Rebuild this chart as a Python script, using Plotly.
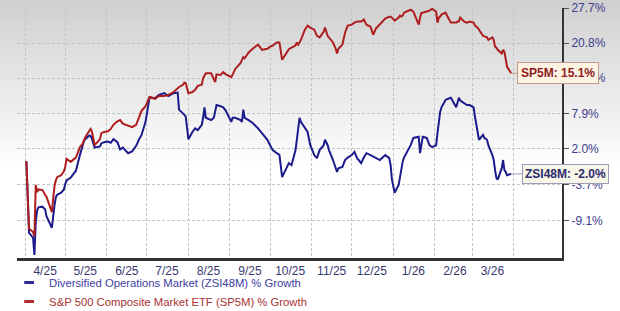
import math
import plotly.graph_objects as go

# ---------------- data ----------------
dates = [
    "2025-04-02", "2025-04-03", "2025-04-04", "2025-04-07", "2025-04-08", "2025-04-09", "2025-04-10",
    "2025-04-11", "2025-04-14", "2025-04-16", "2025-04-17", "2025-04-21", "2025-04-22", "2025-04-23",
    "2025-04-24", "2025-04-25", "2025-04-28", "2025-04-30", "2025-05-01", "2025-05-02", "2025-05-05",
    "2025-05-07", "2025-05-09", "2025-05-12", "2025-05-13", "2025-05-14", "2025-05-15", "2025-05-16",
    "2025-05-19", "2025-05-20", "2025-05-21", "2025-05-22", "2025-05-23", "2025-05-27", "2025-05-28",
    "2025-05-30", "2025-06-02", "2025-06-04", "2025-06-06", "2025-06-09", "2025-06-11", "2025-06-13",
    "2025-06-17", "2025-06-20", "2025-06-23", "2025-06-25", "2025-06-27", "2025-06-30", "2025-07-02",
    "2025-07-03", "2025-07-07", "2025-07-10", "2025-07-14", "2025-07-17", "2025-07-21", "2025-07-24",
    "2025-07-25", "2025-07-28", "2025-07-29", "2025-07-30", "2025-07-31", "2025-08-01", "2025-08-04",
    "2025-08-06", "2025-08-08", "2025-08-11", "2025-08-12", "2025-08-13", "2025-08-14", "2025-08-18",
    "2025-08-20", "2025-08-21", "2025-08-22", "2025-08-25", "2025-08-27", "2025-08-29", "2025-09-02",
    "2025-09-03", "2025-09-05", "2025-09-09", "2025-09-10", "2025-09-11", "2025-09-12", "2025-09-15",
    "2025-09-18", "2025-09-22", "2025-09-25", "2025-09-29", "2025-10-01", "2025-10-03", "2025-10-06",
    "2025-10-08", "2025-10-10", "2025-10-13", "2025-10-15", "2025-10-17", "2025-10-20", "2025-10-21",
    "2025-10-22", "2025-10-23", "2025-10-24", "2025-10-27", "2025-10-29", "2025-10-31", "2025-11-03",
    "2025-11-05", "2025-11-07", "2025-11-10", "2025-11-11", "2025-11-13", "2025-11-14", "2025-11-17",
    "2025-11-19", "2025-11-20", "2025-11-21", "2025-11-24", "2025-11-26", "2025-11-28", "2025-12-01",
    "2025-12-03", "2025-12-05", "2025-12-08", "2025-12-10", "2025-12-12", "2025-12-15", "2025-12-17",
    "2025-12-19", "2025-12-22", "2025-12-24", "2025-12-26", "2025-12-29", "2025-12-30", "2025-12-31",
    "2026-01-02", "2026-01-05", "2026-01-06", "2026-01-07", "2026-01-08", "2026-01-09", "2026-01-12",
    "2026-01-13", "2026-01-14", "2026-01-16", "2026-01-20", "2026-01-21", "2026-01-22", "2026-01-23",
    "2026-01-26", "2026-01-28", "2026-01-30", "2026-02-02", "2026-02-03", "2026-02-04", "2026-02-05",
    "2026-02-06", "2026-02-09", "2026-02-11", "2026-02-13", "2026-02-17", "2026-02-18", "2026-02-19",
    "2026-02-20", "2026-02-23", "2026-02-25", "2026-02-27", "2026-03-02", "2026-03-03", "2026-03-04",
    "2026-03-05", "2026-03-06", "2026-03-09", "2026-03-10", "2026-03-12", "2026-03-13", "2026-03-16",
    "2026-03-17", "2026-03-18", "2026-03-19", "2026-03-20", "2026-03-23", "2026-03-24", "2026-03-25",
    "2026-03-26", "2026-03-27", "2026-03-30",
]

sp5m = [
    0.0, -4.8, -10.2, -10.7, -11.3, -3.7, -4.8,
    -4.4, -4.5, -5.2, -5.5, -7.8, -5.7, -3.9,
    -3.0, -2.5, -2.2, -1.6, -0.9, 0.4, -0.1,
    0.3, 0.6, 2.3, 2.5, 2.8, 3.4, 3.9,
    5.0, 5.3, 4.8, 3.5, 2.6, 3.6, 4.6,
    4.8, 4.9, 5.3, 6.0, 6.6, 6.8, 6.2,
    5.8, 5.6, 6.0, 7.2, 8.4, 9.2, 10.2,
    10.8, 10.5, 11.0, 11.0, 11.2, 11.7, 12.4,
    12.6, 13.0, 13.4, 13.3, 12.6, 11.5, 11.7,
    12.1, 12.8, 13.0, 14.2, 14.8, 15.1, 15.1,
    13.9, 13.5, 14.9, 14.8, 15.3, 14.9, 14.4,
    14.8, 15.9, 17.0, 17.6, 18.1, 17.9, 19.0,
    19.7, 20.5, 19.5, 19.7, 20.1, 20.3, 20.9,
    20.9, 17.6, 18.7, 19.6, 19.9, 20.3, 20.9,
    20.5, 20.9, 21.4, 23.4, 24.2, 23.8, 23.4,
    22.2, 21.9, 23.0, 23.8, 22.2, 21.9, 20.9,
    19.7, 18.8, 19.7, 20.5, 22.8, 24.2, 24.4,
    24.8, 25.0, 25.0, 25.4, 24.4, 24.0, 22.4,
    23.6, 24.4, 25.0, 25.6, 26.0, 26.0, 25.8,
    25.2, 25.8, 26.2, 26.0, 26.2, 26.8, 27.2,
    27.4, 27.4, 27.0, 24.4, 25.8, 26.8, 26.8,
    27.0, 27.2, 27.6, 27.0, 24.8, 25.8, 26.0,
    26.4, 26.8, 25.8, 24.8, 24.8, 25.0, 25.0,
    25.8, 25.0, 24.8, 25.0, 24.8, 24.2, 24.0,
    23.8, 23.4, 22.2, 22.1, 21.9, 21.4, 21.9,
    21.4, 20.1, 19.9, 19.5, 18.8, 19.5, 19.1,
    18.0, 16.3, 15.1,
]

zsi48m = [
    0.0, -5.3, -10.8, -11.5, -13.9, -9.2, -7.6,
    -7.1, -7.0, -7.4, -8.4, -10.1, -8.2, -6.8,
    -5.6, -5.2, -4.9, -4.4, -3.6, -3.0, -2.6,
    -2.0, -1.5, 1.0, 1.6, 2.5, 3.3, 3.6,
    4.2, 4.1, 3.6, 2.8, 2.2, 2.4, 2.9,
    3.1, 3.2, 3.0, 3.6, 3.1, 1.9, 2.2,
    1.3, 1.6, 2.5, 3.5, 4.3, 6.5, 9.6,
    10.8, 10.6, 11.2, 11.5, 11.0, 11.5, 11.6,
    8.6, 8.0, 7.7, 7.4, 5.8, 3.6, 4.8,
    5.4, 5.1, 6.0, 7.2, 9.0, 7.2, 6.8,
    7.2, 8.2, 9.4, 9.2, 9.0, 8.4, 6.5,
    7.2, 7.2, 6.8, 6.5, 8.6, 7.2, 6.8,
    6.3, 5.4, 4.6, 3.5, 2.6, 1.8, 1.3,
    1.0, -2.5, -1.1, -0.3, -0.6, 1.8, 3.5,
    5.6, 7.2, 6.5, 5.6, 4.8, 2.6, 1.0,
    0.5, 1.8, 2.6, 3.5, 2.6, 1.8, 0.2,
    -1.1, -1.7, -1.1, -0.9, 0.2, 0.6, 1.0,
    1.5, 0.5, -0.3, 0.6, 1.3, 1.0, 0.8,
    0.6, 0.2, 0.6, 1.0, 0.5, -0.6, -2.9,
    -4.9, -3.7, -2.5, -1.1, -0.1, 0.6, 1.8,
    2.3, 2.6, 3.8, 4.0, 1.3, 2.6, 4.0,
    3.8, 2.6, 2.3, 2.6, 4.6, 6.8, 8.2,
    9.0, 10.3, 10.5, 10.7, 9.0, 9.8, 10.7,
    10.2, 9.8, 9.4, 9.4, 9.0, 7.4, 6.0,
    5.1, 3.5, 4.3, 3.8, 3.5, 2.6, 1.0,
    0.2, -1.4, -2.6, -2.9, -1.1, 0.2, -1.4,
    -1.7, -2.2, -2.0,
]

y_tick_pcts = [27.7, 20.8, 14.2, 7.9, 2.0, -3.7, -9.1]
month_starts = ["2025-04-01", "2025-05-01", "2025-06-01", "2025-07-01", "2025-08-01", "2025-09-01",
                "2025-10-01", "2025-11-01", "2025-12-01", "2026-01-01", "2026-02-01", "2026-03-01",
                "2026-04-01"]
x_label_dates = ["2025-04-16", "2025-05-16", "2025-06-16", "2025-07-16", "2025-08-16", "2025-09-16",
                 "2025-10-16", "2025-11-16", "2025-12-16", "2026-01-16", "2026-02-16", "2026-03-16"]
x_labels = ["4/25", "5/25", "6/25", "7/25", "8/25", "9/25", "10/25", "11/25", "12/25",
            "1/26", "2/26", "3/26"]

name_zsi = "Diversified Operations Market (ZSI48M) % Growth"
name_sp = "S&P 500 Composite Market ETF (SP5M) % Growth"

RED = "#ad1d1d"
BLUE = "#1b1b8c"

def factor(p):
    return 1 + p / 100.0

W, H = 620, 311
ML, MR, MT, MB = 17, 58, 8, 53
PW, PH = W - ML - MR, H - MT - MB

fig = go.Figure()

fig.add_trace(go.Scatter(x=dates, y=[factor(v) for v in zsi48m], mode="lines",
                         line=dict(color=BLUE, width=2), showlegend=False, hoverinfo="skip"))
fig.add_trace(go.Scatter(x=dates, y=[factor(v) for v in sp5m], mode="lines",
                         line=dict(color=RED, width=2), showlegend=False, hoverinfo="skip"))

# legend proxies
fig.add_trace(go.Scatter(x=[None], y=[None], mode="markers",
                         marker=dict(symbol="line-ew-open", size=7, color="#2b2b9a",
                                     line=dict(width=3, color="#2b2b9a")),
                         name='<span style="color:#3d3da0">' + name_zsi + "</span>"))
fig.add_trace(go.Scatter(x=[None], y=[None], mode="markers",
                         marker=dict(symbol="line-ew-open", size=7, color="#b03030",
                                     line=dict(width=3, color="#b03030")),
                         name='<span style="color:#a83232">' + name_sp + "</span>"))

# background gradient (grey at top fading to white)
shapes = []
band = 5
top_c, bot_c = 208, 255
n = 34
for i in range(n):
    py0 = i * band
    py1 = py0 + band + 1
    c = int(round(top_c + (bot_c - top_c) * (i / (n - 1))))
    shapes.append(dict(type="rect", xref="paper", yref="paper",
                       x0=-ML / PW, x1=1 + MR / PW,
                       y0=(H - MB - py1) / PH, y1=(H - MB - py0) / PH,
                       fillcolor=f"rgb({c},{c},{c})", line=dict(width=0), layer="below"))

ymin = math.log10(0.8568)
ymax = math.log10(1.2775)

fig.update_layout(
    width=W, height=H,
    margin=dict(l=ML, r=MR, t=MT, b=MB, autoexpand=False),
    paper_bgcolor="white",
    plot_bgcolor="rgba(0,0,0,0)",
    shapes=shapes,
    font=dict(family="Arial", size=12, color="#3a3a8a"),
    legend=dict(x=-0.0145, y=-0.04, xanchor="left", yanchor="top", orientation="v",
                bgcolor="rgba(0,0,0,0)", font=dict(family="Arial", size=11.3),
                tracegroupgap=0, itemwidth=30),
    xaxis=dict(
        type="date",
        range=["2025-03-26", "2026-05-07"],
        tickvals=x_label_dates, ticktext=x_labels,
        showgrid=False, ticks="",
        tickfont=dict(family="Arial", size=12, color="#38386e"),
        showline=True, linecolor="#333333", linewidth=3,
        zeroline=False,
        minor=dict(tickvals=month_starts, showgrid=True, gridcolor="#c4c4c4",
                   griddash="3px,2px", gridwidth=1, ticks=""),
    ),
    yaxis=dict(
        type="log", side="right",
        range=[ymin, ymax],
        tickvals=[factor(v) for v in y_tick_pcts],
        ticktext=[f"{v:.1f}%" for v in y_tick_pcts],
        showgrid=True, gridcolor="#c4c4c4", griddash="3px,2px", gridwidth=1,
        ticks="outside", ticklen=5, tickcolor="#555555",
        tickfont=dict(family="Arial", size=12, color="#3d3d8c"),
        showline=True, linecolor="#333333", linewidth=2,
        zeroline=False,
    ),
    annotations=[
        dict(x=dates[-1], y=math.log10(factor(sp5m[-1])),
             text=f"<b>SP5M: {sp5m[-1]:.1f}%</b>",
             showarrow=True, arrowhead=0, arrowwidth=1, arrowcolor="#c49a8c",
             ax=47, ay=0, standoff=0,
             font=dict(family="Arial", size=12, color="#8e1c1c"),
             bgcolor="#fdf3e2", bordercolor="#c49a8c", borderwidth=1, borderpad=3),
        dict(x=dates[-1], y=math.log10(factor(zsi48m[-1])),
             text=f"<b>ZSI48M: {zsi48m[-1]:.1f}%</b>",
             showarrow=True, arrowhead=0, arrowwidth=1, arrowcolor="#9c9cb4",
             ax=54, ay=0, standoff=0,
             font=dict(family="Arial", size=12, color="#2b2b6e"),
             bgcolor="#f7f4e8", bordercolor="#9c9cb4", borderwidth=1, borderpad=2),
    ],
)

fig.write_html("out.html")
